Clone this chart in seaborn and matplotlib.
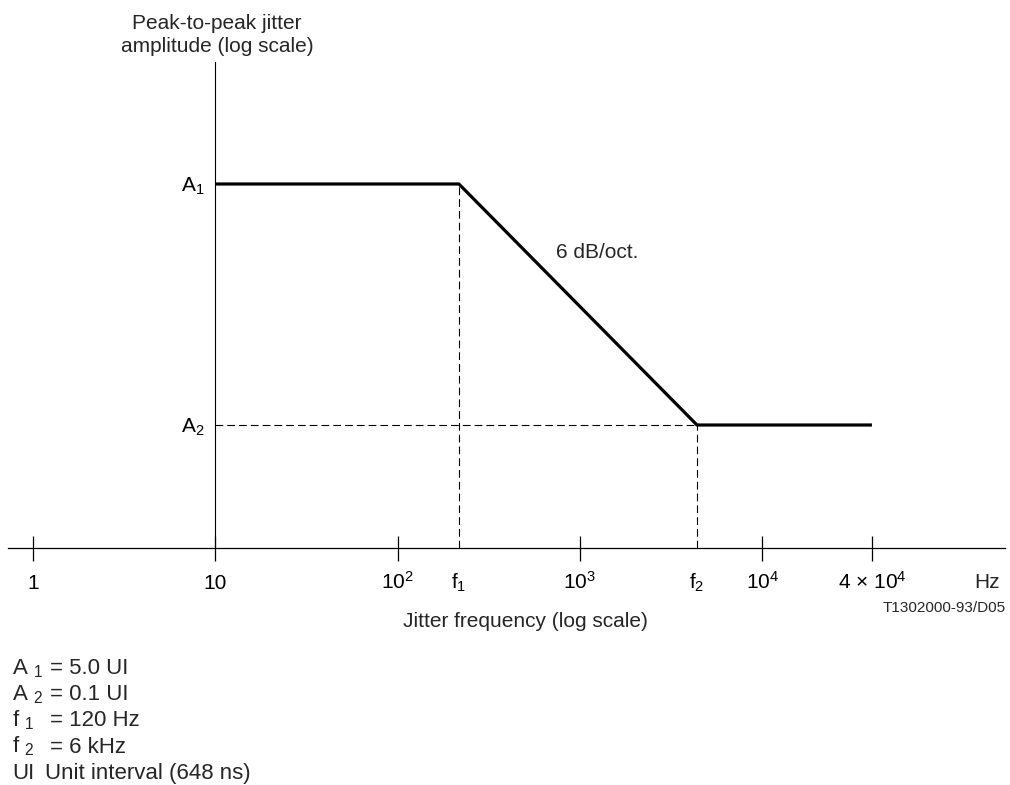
import matplotlib
matplotlib.use('Agg')
import matplotlib.pyplot as plt
from matplotlib.ticker import NullLocator
import numpy as np
import pandas as pd
import seaborn as sns

# jitter tolerance mask (positions as drawn in the figure, not to scale)
freq = [10, 217, 4390, 40000]          # Hz
amp = [5.0, 5.0, 0.1, 0.1]             # UI
f1_pos = 217
f2_pos = 4390
a1 = 5.0
a2 = 0.1

tick_vals = [1, 10, 1e2, f1_pos, 1e3, f2_pos, 1e4, 4e4]
tick_labels = ['1', '10', '10$^2$', 'f$_1$', '10$^3$', 'f$_2$', '10$^4$', '4 × 10$^4$']
tick_marked = [True, True, True, False, True, False, True, True]

legend_keys = ['A $_1$', 'A $_2$', 'f $_1$', 'f $_2$', 'UI']
legend_vals = ['= 5.0 UI', '= 0.1 UI', '= 120 Hz', '= 6 kHz', 'Unit interval (648 ns)']

sns.set_style('white')
plt.rcParams['font.family'] = ['Liberation Sans', 'DejaVu Sans']
plt.rcParams['mathtext.fontset'] = 'custom'
plt.rcParams['mathtext.rm'] = 'Liberation Sans'
plt.rcParams['mathtext.it'] = 'Liberation Sans:italic'
plt.rcParams['mathtext.bf'] = 'Liberation Sans:bold'

W, H = 1010, 785
fig = plt.figure(figsize=(W / 100, H / 100), dpi=100)
ax = fig.add_axes([8 / W, 1 - 548 / H, 997 / W, 486 / H])
ax.set_xscale('log')
ax.set_yscale('log')
ax.set_xlim(10 ** -0.137, 10 ** 5.332)
ax.set_ylim(0.1 * 10 ** -0.867, 5 * 10 ** 0.86)

df = pd.DataFrame({'freq': freq, 'amp': amp})
sns.lineplot(data=df, x='freq', y='amp', color='black', linewidth=2.3,
             sort=False, ax=ax, solid_capstyle='butt')

# dashed guides
ymin = ax.get_ylim()[0]
dash = (0, (7, 3.6))
ax.vlines([f1_pos], ymin, a1, colors='black', linewidth=0.8, linestyles=[dash])
ax.vlines([f2_pos], ymin, a2, colors='black', linewidth=0.8, linestyles=[dash])
ax.hlines([a2], 10, f2_pos, colors='black', linewidth=0.8, linestyles=[dash])

for s in ['top', 'right']:
    ax.spines[s].set_visible(False)
ax.spines['left'].set_position(('data', 10))
ax.spines['left'].set_linewidth(0.8)
ax.spines['bottom'].set_linewidth(0.9)
for s in ['left', 'bottom']:
    ax.spines[s].set_color('black')

marked = [v for v, m in zip(tick_vals, tick_marked) if m]
ax.set_xticks(marked, labels=[''] * len(marked))
ax.xaxis.set_minor_locator(NullLocator())
ax.tick_params(axis='x', direction='inout', length=18, width=0.9, color='black', bottom=True)

ax.set_yticks([a1, a2], labels=['A$_1$', 'A$_2$'])
ax.yaxis.set_minor_locator(NullLocator())
ax.tick_params(axis='y', length=0, pad=8, labelsize=15, labelcolor='black')

xtr = ax.get_xaxis_transform()
for v, lab in zip(tick_vals, tick_labels):
    ax.text(v, -(589 - 548) / 486, lab, transform=xtr, ha='center', va='baseline',
            fontsize=15, color='black')

ax.set_xlabel('')
ax.set_ylabel('')

fig.text(217 / W, 1 - 29 / H, 'Peak-to-peak jitter', ha='center', va='baseline', fontsize=15)
fig.text(217 / W, 1 - 52 / H, 'amplitude (log scale)', ha='center', va='baseline', fontsize=15)
fig.text(525 / W, 1 - 627 / H, 'Jitter frequency (log scale)', ha='center', va='baseline', fontsize=15)
fig.text(987 / W, 1 - 588 / H, 'Hz', ha='center', va='baseline', fontsize=15)
fig.text(1006 / W, 1 - 612 / H, 'T1302000-93/D05', ha='right', va='baseline', fontsize=11)
fig.text(556 / W, 1 - 258 / H, '6 dB/oct.', ha='left', va='baseline', fontsize=15)

for i, (k, v) in enumerate(zip(legend_keys, legend_vals)):
    yb = 1 - (674 + 26.2 * i) / H
    fig.text(12 / W, yb, k, ha='left', va='baseline', fontsize=16)
    fig.text((45 if k == 'UI' else 50) / W, yb, v, ha='left', va='baseline', fontsize=16)

fig.savefig('out.png', dpi=100)
